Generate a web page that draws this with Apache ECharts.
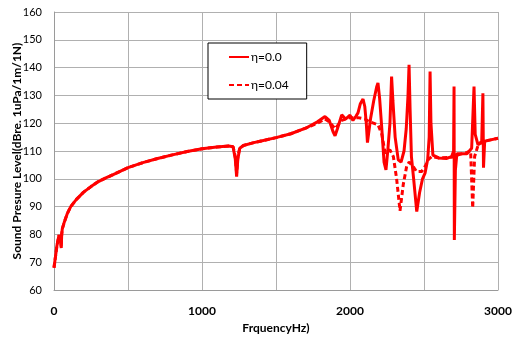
<!DOCTYPE html>
<html>
<head>
<meta charset="utf-8">
<script src="https://cdn.jsdelivr.net/npm/echarts@6/dist/echarts.min.js"></script>
<style>
html,body{margin:0;padding:0;background:#fff;}
#chart{width:513px;height:338px;}
</style>
</head>
<body>
<div id="chart"></div>
<script>
// Frequency (Hz) and SPL (dB) for eta = 0.0 (solid)
const freqSolid = [0,10,20,34,42,46,49,52,56,70,90,113,150,200,250,300,350,400,500,600,700,800,900,1000,1100,1180,1210,1225,1234,1242,1255,1280,1350,1400,1500,1600,1700,1780,1831,1860,1885,1899,1915,1944,1970,2000,2020,2040,2054,2070,2088,2100,2110,2118,2125,2140,2160,2180,2189,2200,2215,2230,2243,2255,2270,2281,2290,2305,2326,2345,2365,2380,2392,2399,2406,2415,2430,2451,2470,2490,2507,2525,2535,2541,2547,2560,2600,2650,2687,2700,2703,2705,2712,2722,2790,2822,2838,2846,2865,2890,2898,2902,2910,2950,3000];
const splSolid  = [68,72,76,79.8,80.5,77,75.1,80,82,84.5,87.5,90,92.5,95.2,97.2,99,100.3,101.5,104,105.8,107.3,108.6,109.8,110.8,111.4,111.8,111.5,107,100.8,107,111,112,113,113.6,114.8,116.2,118.2,120.5,122.4,121,117,115.5,118,123,121.5,122.9,121,122.5,123.7,127,128.7,126,120,113,116,122,128,133,134.5,129,118,106,103.2,110,120,136.8,128,115,106.8,106,110,118,130,141,125,108,100,88.2,95,100,102,107,115,138.6,120,108.5,107.5,107.3,108,110,133.2,78,103,109,109,111,133.2,116,112.2,113.5,130.8,104,113.5,114,114.6];

// Frequency (Hz) and SPL (dB) for eta = 0.04 (dashed)
const freqDashed = [0,10,20,34,42,46,49,52,56,70,90,113,150,200,250,300,350,400,500,600,700,800,900,1000,1100,1180,1210,1225,1234,1242,1255,1280,1350,1400,1500,1600,1700,1780,1831,1860,1899,1944,2000,2054,2100,2130,2190,2215,2237,2270,2293,2315,2338,2360,2383,2400,2427,2450,2484,2507,2530,2552,2600,2700,2722,2790,2815,2829,2842,2865,2900,2950,3000];
const splDashed  = [68,72,76,79.8,80.5,77,75.5,80,82,84.5,87.5,90,92.5,95.2,97.2,99,100.3,101.5,104,105.8,107.3,108.6,109.8,110.8,111.4,111.8,111.5,108,102,108,111,112,113,113.6,114.8,116.2,118.2,120,121.5,120.5,118,121,122,122,121.5,120.6,119.4,116,109.3,110.4,108,100,88.5,98,104.5,106,104.4,102.6,102.6,104.4,107,108,107.5,107.8,108.5,109.5,110,89.5,108,112,113.5,114,114.6];

const yTicks = [60,70,80,90,100,110,120,130,140,150,160];
const xLabels = [0,1000,2000,3000];
const seriesNames = ['η=0.0','η=0.04'];

const zip = (xs, ys) => xs.map((x, i) => [x, ys[i]]);

const chart = echarts.init(document.getElementById('chart'), null, {renderer:'canvas'});
const FONT = 'Lato, "Liberation Sans", sans-serif';
chart.setOption({
  animation:false,
  backgroundColor:'#ffffff',
  textStyle:{fontFamily:FONT},
  grid:{left:54,right:15,top:12,bottom:48,containLabel:false,outerBoundsMode:'none'},
  legend:{
    orient:'vertical',
    left:208, top:43,
    padding:[8,18,8,20],
    itemGap:16,
    itemWidth:20, itemHeight:14,
    borderColor:'#000', borderWidth:1,
    backgroundColor:'#fff',
    itemStyle:{color:'rgba(0,0,0,0)',borderColor:'rgba(0,0,0,0)',borderWidth:0},
    textStyle:{fontFamily:FONT,fontSize:12,color:'#000',padding:[0,0,0,-3]},
    data:seriesNames
  },
  xAxis:{
    type:'value', min:0, max:3000, interval:500,
    name:'FrquencyHz)', nameLocation:'middle', nameGap:31,
    nameTextStyle:{fontFamily:FONT,fontWeight:'bold',fontSize:12,color:'#000'},
    axisLine:{lineStyle:{color:'#9a9a9a',width:1}},
    axisTick:{show:false},
    axisLabel:{margin:15,fontFamily:FONT,fontWeight:'bold',fontSize:12,color:'#000',
      formatter:v => xLabels.includes(v) ? String(v) : ''},
    splitLine:{show:true,lineStyle:{color:'#b0b0b0',width:1}}
  },
  yAxis:{
    type:'value', min:yTicks[0], max:yTicks[yTicks.length-1], interval:10,
    name:'Sound Presure Level(dBre. 1uPa/1m/1N)', nameLocation:'middle', nameGap:31,
    nameMoveOverlap:false,
    nameTextStyle:{fontFamily:FONT,fontWeight:'bold',fontSize:12,color:'#000'},
    axisLine:{show:true,lineStyle:{color:'#9a9a9a',width:1}},
    axisTick:{show:false},
    axisLabel:{margin:12,fontFamily:FONT,fontSize:11,color:'#000'},
    splitLine:{show:true,lineStyle:{color:'#b0b0b0',width:1}}
  },
  series:[
    {name:seriesNames[1], type:'line', showSymbol:false, symbol:'none',
     lineStyle:{color:'#ff0000',width:3,type:[5,3]}, itemStyle:{color:'#ff0000'},
     data:zip(freqDashed,splDashed), z:2},
    {name:seriesNames[0], type:'line', showSymbol:false, symbol:'none',
     lineStyle:{color:'#ff0000',width:3}, itemStyle:{color:'#ff0000'},
     data:zip(freqSolid,splSolid), z:3}
  ]
});
</script>
</body>
</html>
